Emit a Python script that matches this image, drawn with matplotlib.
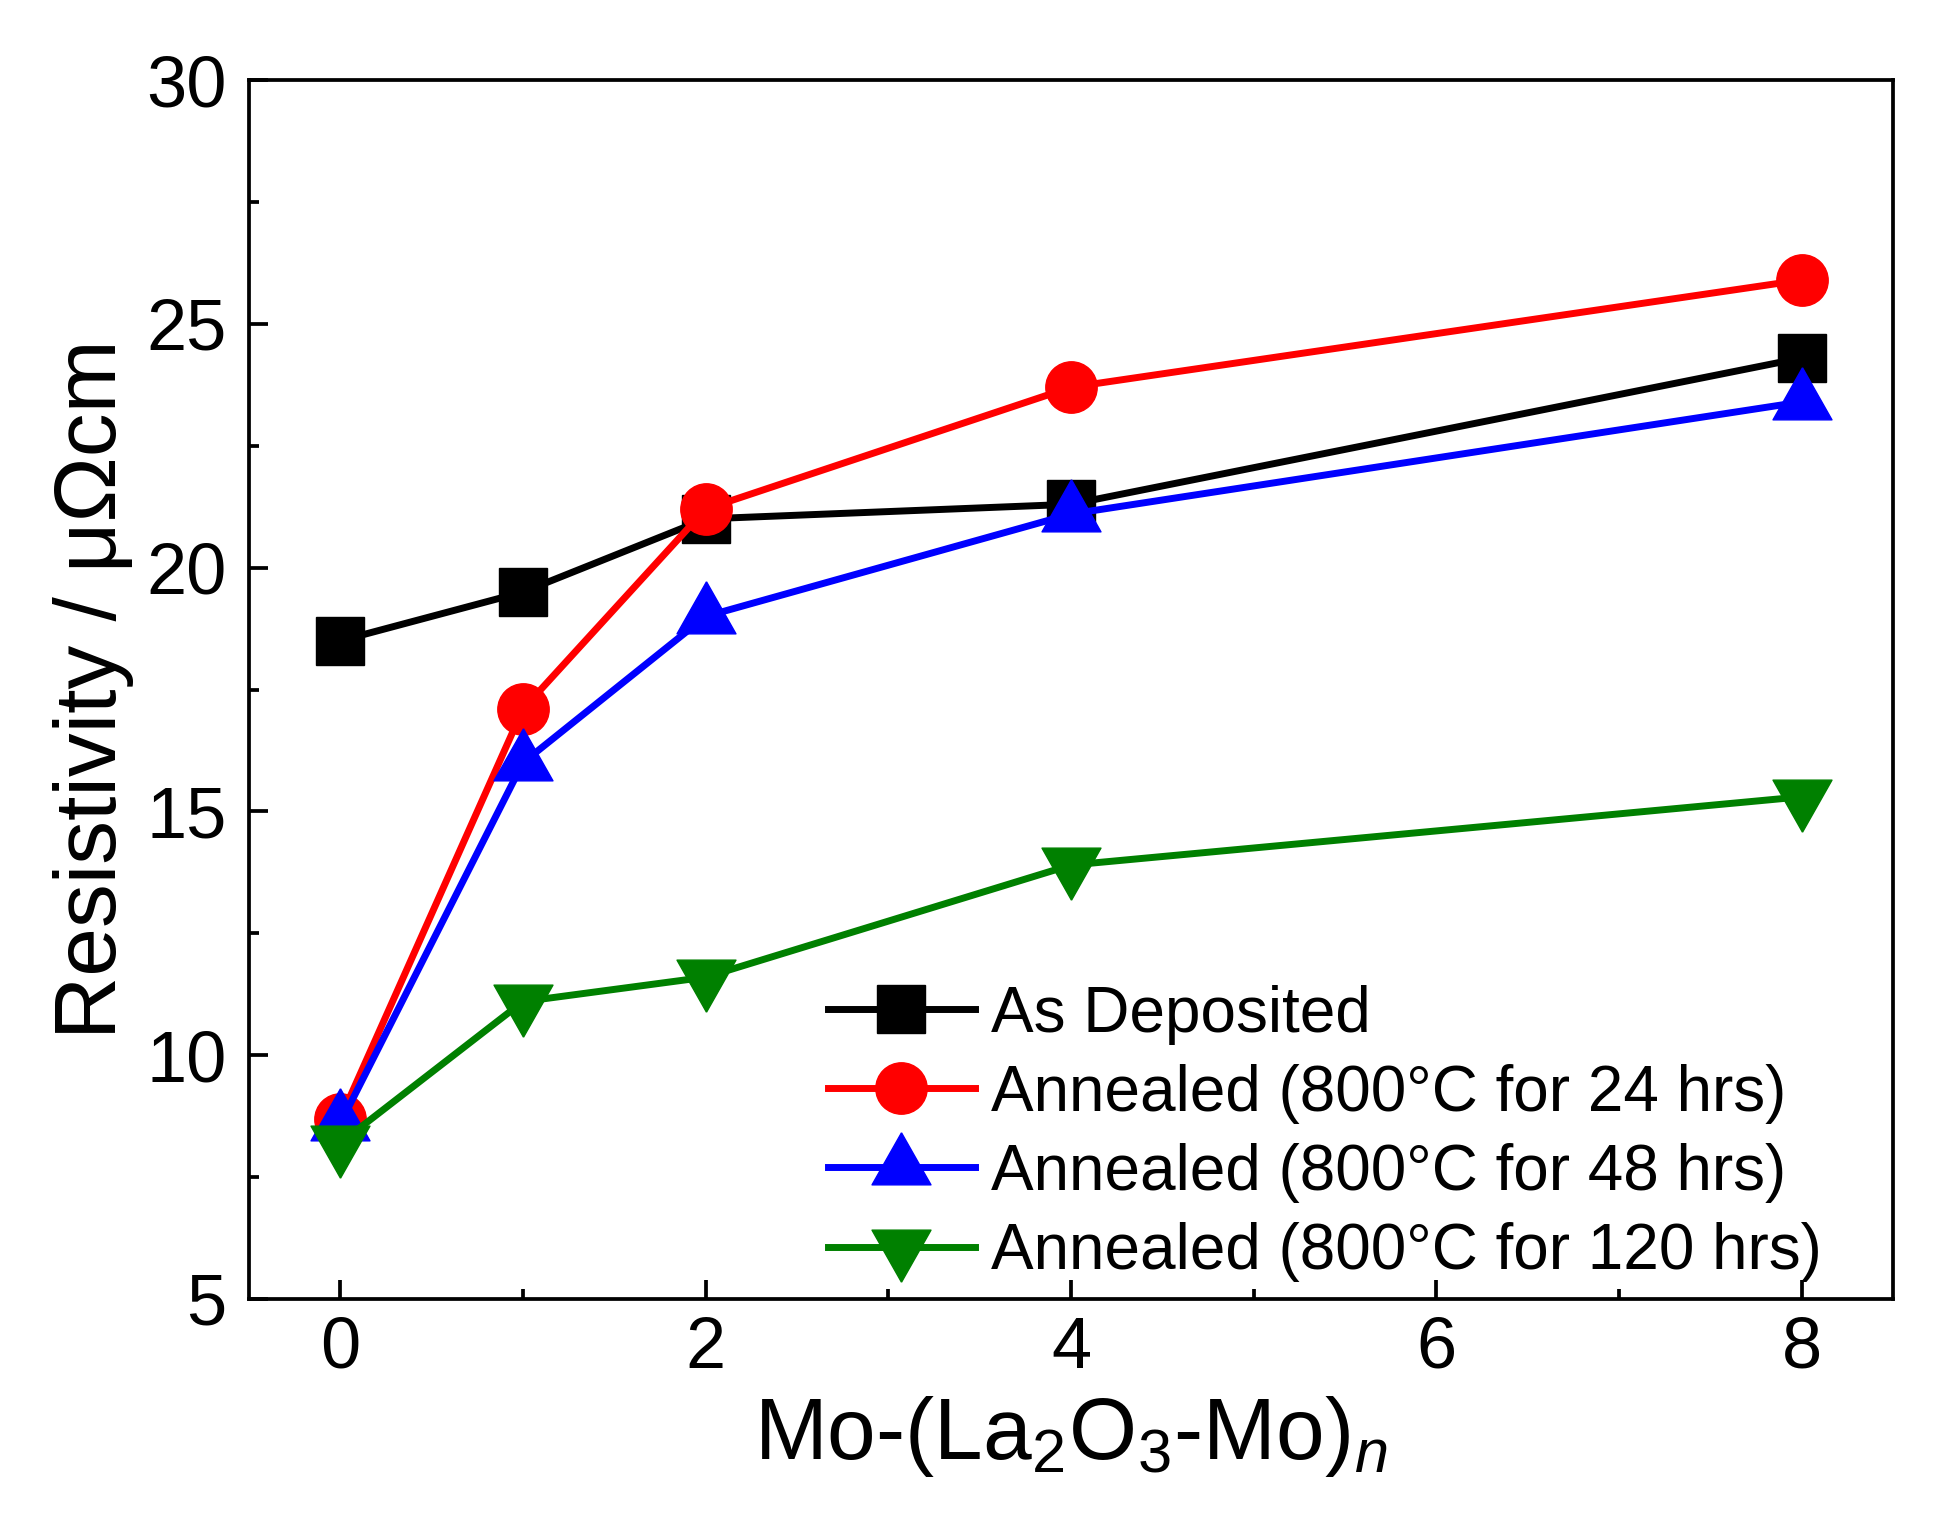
import numpy as np
import matplotlib
matplotlib.use('Agg')
import matplotlib.pyplot as plt
from matplotlib.ticker import MultipleLocator

# data
n_layers = [0, 1, 2, 4, 8]
as_deposited = [18.5, 19.5, 21.0, 21.3, 24.3]
annealed_24h = [8.7, 17.1, 21.2, 23.7, 25.9]
annealed_48h = [8.6, 16.0, 19.0, 21.1, 23.4]
annealed_120h = [8.2, 11.1, 11.6, 13.9, 15.3]

labels = ['As Deposited',
          'Annealed (800°C for 24 hrs)',
          'Annealed (800°C for 48 hrs)',
          'Annealed (800°C for 120 hrs)']

plt.rcParams['font.family'] = ['Liberation Sans', 'DejaVu Sans']
plt.rcParams['mathtext.fontset'] = 'custom'
plt.rcParams['mathtext.rm'] = 'Liberation Sans'
plt.rcParams['mathtext.it'] = 'Liberation Sans:italic'

# triangles centred on their centroid, like Origin draws them
w, h = 60.0, 53.0
tri_up = [(0, 2 * h / 3), (-w / 2, -h / 3), (w / 2, -h / 3), (0, 2 * h / 3)]
tri_down = [(x, -y) for x, y in tri_up]

fig = plt.figure(figsize=(19.36, 15.25), dpi=100)
ax = fig.add_axes([0.1286, 0.1482, 0.8492, 0.7993])

ax.plot(n_layers, as_deposited, color='black', lw=5, marker='s', ms=34,
        mew=1, label=labels[0])
ax.plot(n_layers, annealed_24h, color='red', lw=5, marker='o', ms=37,
        mew=1, label=labels[1])
ax.plot(n_layers, annealed_48h, color='blue', lw=5, marker=tri_up, ms=50,
        mew=1, label=labels[2])
ax.plot(n_layers, annealed_120h, color='green', lw=5, marker=tri_down, ms=50,
        mew=1, label=labels[3])

ax.set_xlim(-0.5, 8.5)
ax.set_ylim(5, 30)
ax.xaxis.set_major_locator(MultipleLocator(2))
ax.xaxis.set_minor_locator(MultipleLocator(1))
ax.yaxis.set_major_locator(MultipleLocator(5))
ax.yaxis.set_minor_locator(MultipleLocator(2.5))

for s in ax.spines.values():
    s.set_linewidth(2.7)
ax.tick_params(which='both', direction='in', top=False, right=False, width=2.7)
ax.tick_params(which='major', length=14, labelsize=52)
ax.tick_params(which='minor', length=7)
ax.tick_params(axis='x', which='major', pad=12)
ax.tick_params(axis='y', which='major', pad=16)

ax.set_xlabel(r'Mo-(La$_2$O$_3$-Mo)$_{\mathit{n}}$', fontsize=63, labelpad=8)
ax.set_ylabel('Resistivity / μΩcm', fontsize=63, labelpad=9)

ax.legend(loc='upper left', bbox_to_anchor=(0.352, 0.258), frameon=False,
          fontsize=46, handlelength=2.3, handletextpad=0.25, labelspacing=0.3,
          borderpad=0, borderaxespad=0, markerscale=1.0)

fig.savefig('out.png', dpi=100)
